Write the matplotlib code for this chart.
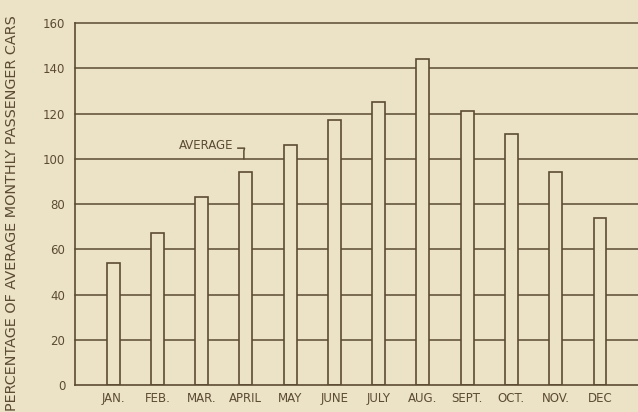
import matplotlib.pyplot as plt
import numpy as np

months = ["JAN.", "FEB.", "MAR.", "APRIL", "MAY", "JUNE", "JULY",
          "AUG.", "SEPT.", "OCT.", "NOV.", "DEC"]
percent = [54, 67, 83, 94, 106, 117, 125, 144, 121, 111, 94, 74]
yticks = [0, 20, 40, 60, 80, 100, 120, 140, 160]

bg = "#ece3c7"
ink = "#5b4b33"

fig = plt.figure(figsize=(6.38, 4.12), dpi=100, facecolor=bg)
ax = fig.add_axes([0.1176, 0.0655, 0.8824, 0.8786], facecolor=bg)

x = np.arange(len(months))
for y in yticks[1:]:
    ax.axhline(y, color=ink, lw=1.1, zorder=1, clip_on=False)
ax.bar(x, percent, width=0.29, color=bg, edgecolor=ink, linewidth=1.2, zorder=2)

ax.set_xlim(-0.86, 11.86)
ax.set_ylim(0, 160)
ax.set_yticks(yticks)
ax.set_xticks(x)
ax.set_xticklabels(months)
ax.tick_params(length=0, colors=ink, labelsize=8.5, pad=7)
ax.tick_params(axis="x", pad=5)
for s in ["top", "right"]:
    ax.spines[s].set_visible(False)
for s in ["left", "bottom"]:
    ax.spines[s].set_color(ink)
    ax.spines[s].set_linewidth(1.2)

ax.set_ylabel("PERCENTAGE OF AVERAGE MONTHLY PASSENGER CARS",
              color=ink, fontsize=10.4)
ax.yaxis.set_label_coords(-0.0995, 0.475)

ax.text(2.1, 102.8, "AVERAGE", color=ink, fontsize=8.5, ha="center", va="bottom")
ax.plot([2.82, 2.97, 2.955, 2.955], [104.7, 104.7, 103.5, 100],
        color=ink, lw=1.1, zorder=3)

fig.savefig("out.png", dpi=100, facecolor=bg)
